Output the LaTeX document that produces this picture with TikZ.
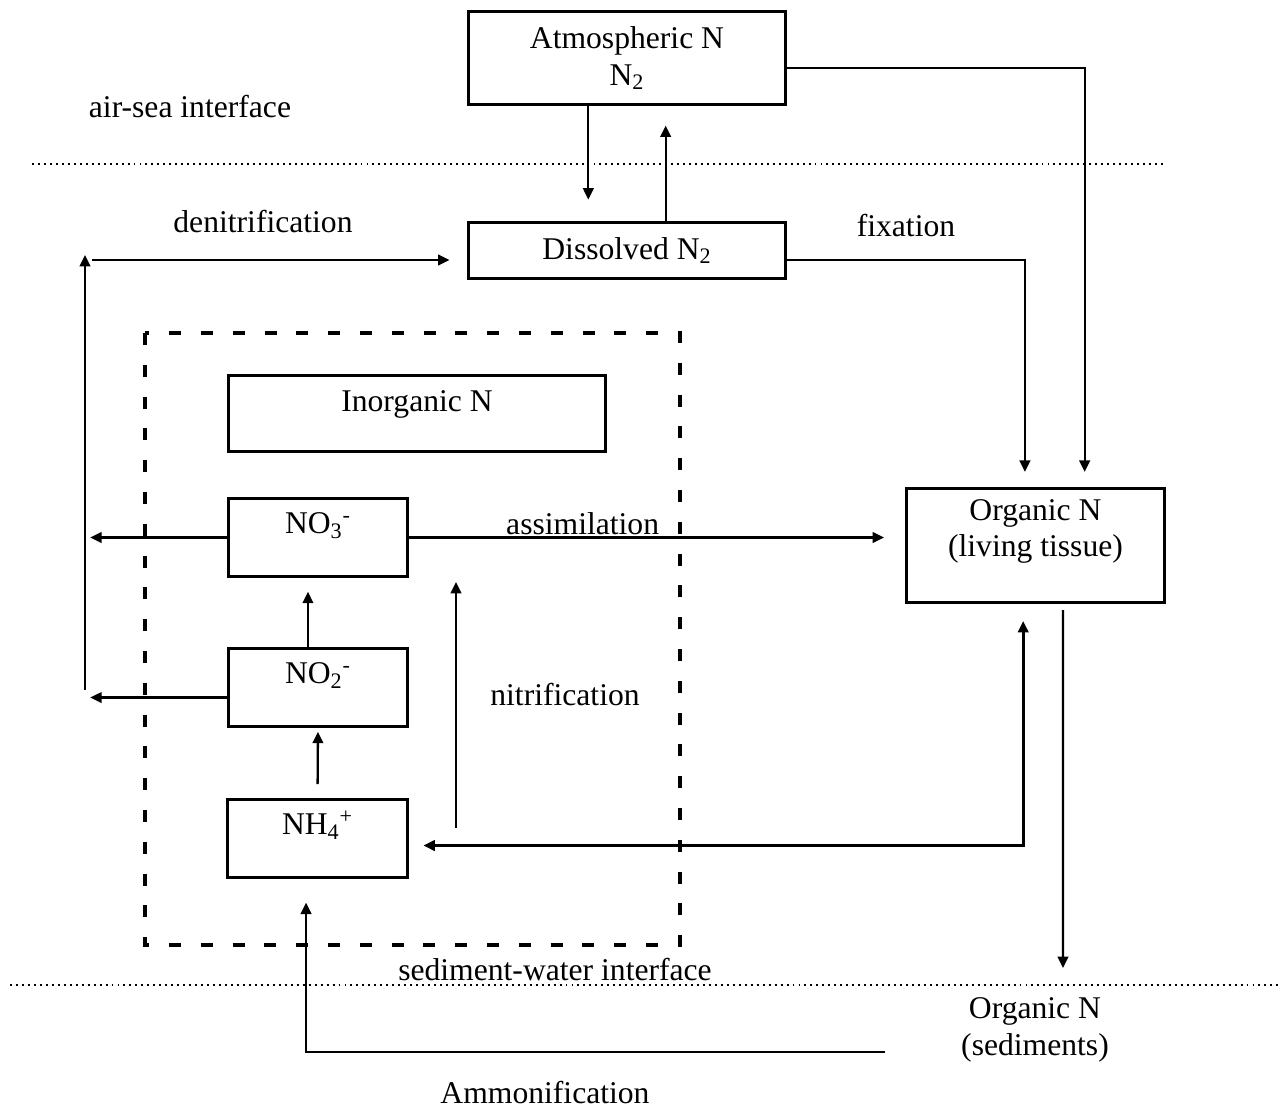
\documentclass[tikz,border=0pt]{standalone}
\usepackage{fontspec}
\setmainfont{Liberation Serif}
\usetikzlibrary{positioning, arrows.meta, calc}

\begin{document}
\begin{tikzpicture}[x=0.02cm, y=-0.02cm, font=\fontsize{18}{21}\selectfont,
      >={Triangle[length=6.5pt, width=6pt]},
      box/.style={draw, line width=1.6pt, align=center, inner xsep=4pt, inner ysep=0pt},
      spc/.style={box, minimum width=102pt, text height=19.8pt, text depth=24.4pt},
      lbl/.style={inner sep=1pt, align=center},
      arr/.style={->, line width=1.3pt},
      iface/.style={line width=1.1pt, dash pattern=on 1.1pt off 2.3pt},
      grp/.style={line width=2.8pt, dash pattern=on 6.8pt off 11.3pt}]
    \useasboundingbox (0,0) rectangle (1286,1109);
    % interfaces and the inorganic pool
    \draw[iface] (32,164) -- (1165,164);
    \draw[iface] (10,985) -- (1280,985);
    \draw[grp] (145,333) rectangle (680,945);
    % boxes
    \node[box, minimum width=180.3pt, minimum height=53.3pt] (atm) at (627,58) {Atmospheric N\\ N\textsubscript{2}};
    \node[box, minimum width=180.3pt, minimum height=32.3pt] (dis) at (627,250.5) {Dissolved N\textsubscript{2}};
    \node[box, minimum width=214.3pt, text height=20.4pt, text depth=23.2pt] (inorg) at (417,413.5) {Inorganic N};
    \node[spc] (no3) at (318,537.5) {NO\textsubscript{3}\textsuperscript{-}};
    \node[spc] (no2) at (318,687.5) {NO\textsubscript{2}\textsuperscript{-}};
    \node[spc] (nh4) at (317.5,838.5) {NH\textsubscript{4}\textsuperscript{+}};
    \node[box, minimum width=146.8pt, text height=39.1pt, text depth=26.1pt] (orgliv) at (1035.5,545.5) {Organic N\\ (living tissue)};
    \node[lbl] (sed) at (1035,1030) {Organic N\\ (sediments)};
    % labels
    \node[lbl] (airsea) at (190,107) {air-sea interface};
    \node[lbl] (denit) at (263,222) {denitrification};
    \node[lbl] (fix) at (906,226) {fixation};
    \node[lbl] (nitlbl) at (565,695) {nitrification};
    \node[lbl] (sedwat) at (555,970) {sediment-water interface};
    \node[lbl] (ammlbl) at (545,1093) {Ammonification};
    % free ends
    \coordinate (dnbot) at (85,690);
    \coordinate (dntop) at (85,255);
    \coordinate (dnleft) at (92,260);
    \coordinate (nitbot) at (456,828);
    \coordinate (nittop) at (456,582);
    \coordinate (sedtip) at (1063,968);
    \coordinate (ammstart) at (885,1052);
    % exchange with the atmosphere
    \draw[arr, shorten >=12pt] ([xshift=-22pt]atm.south) -- ([xshift=-22pt]dis.north);
    \draw[arr, shorten >=11pt] ([xshift=22pt]dis.north) -- ([xshift=22pt]atm.south);
    \draw[arr, shorten >=8.5pt] ([yshift=-5.7pt]atm.east) -| ([xshift=28pt]orgliv.north);
    \draw[arr, shorten >=8.5pt] ([yshift=-5.4pt]dis.east) -| ([xshift=-6pt]orgliv.north);
    % denitrification
    \draw[arr] (dnbot) -- (dntop);
    \draw[arr, shorten >=10pt] (dnleft) -- (dnleft -| dis.west);
    \draw[arr, shorten >=3pt] (no3.west) -- (no3.west -| dnbot);
    \draw[arr, shorten >=3pt] ([yshift=-5.7pt]no2.west) -- ([yshift=-5.7pt]no2.west -| dnbot);
    % assimilation and nitrification
    \draw[arr, shorten >=12pt] (no3.east) -- (no3.east -| orgliv.west)
      node[lbl, above, pos=0.35] (assim) {assimilation};
    \draw[arr, shorten >=8pt] ([xshift=-5.7pt]no2.north) -- ([xshift=-5.7pt]no3.south);
    \draw[arr, shorten <=8pt, shorten >=2.3pt] (nh4.north) -- (no2.south);
    \draw[arr] (nitbot) -- (nittop);
    % organic N
    \draw[<->, line width=1.5pt, shorten <=9.6pt, shorten >=8.5pt] ([xshift=-7pt]orgliv.south) |- ([yshift=-4pt]nh4.east);
    \draw[arr, shorten <=3.4pt] ([xshift=15.6pt]orgliv.south) -- (sedtip);
    \draw[arr, shorten >=13.6pt] (ammstart) -| ([xshift=-6.5pt]nh4.south);
\end{tikzpicture}
\end{document}
